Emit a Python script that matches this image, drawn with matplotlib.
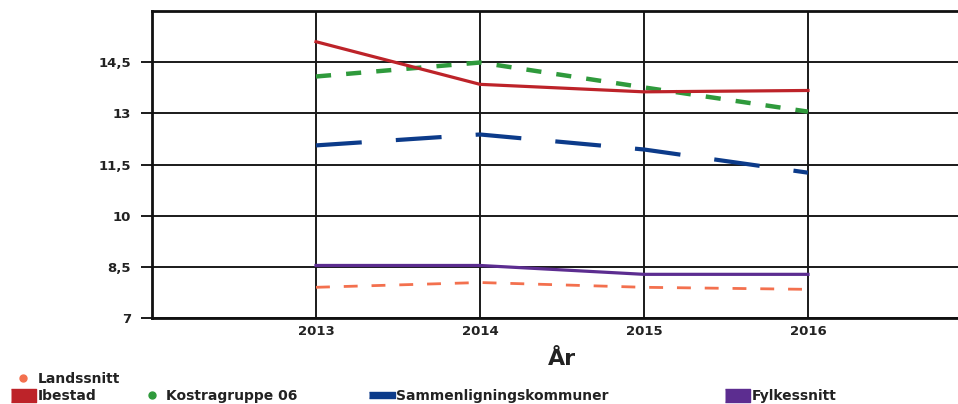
import matplotlib
matplotlib.use("Agg")
import matplotlib.pyplot as plt
from matplotlib.lines import Line2D
from matplotlib.ticker import FixedLocator, FuncFormatter

years = [2013, 2014, 2015, 2016]
ibestad = [15.10, 13.85, 13.63, 13.67]
kostragruppe = [14.08, 14.49, 13.76, 13.05]
sammenligning = [12.06, 12.38, 11.94, 11.26]
fylkessnitt = [8.54, 8.54, 8.28, 8.28]
landssnitt = [7.90, 8.04, 7.90, 7.84]
y_ticks = [7, 8.5, 10, 11.5, 13, 14.5]

RED = '#bd2329'
GREEN = '#2f9a3c'
BLUE = '#0c3b8a'
PURPLE = '#5c2d90'
ORANGE = '#f3704e'
TXT = '#222222'

plt.rcParams['font.family'] = ['DejaVu Sans']
plt.rcParams['font.weight'] = 'bold'

W, H = 958, 404
fig = plt.figure(figsize=(W / 100, H / 100), dpi=100)
ax = fig.add_axes([152 / W, 1 - 318 / H, 820 / W, 307 / H])

ax.set_xlim(2012, 2017)
ax.set_ylim(7, 16)

# grid
ax.xaxis.set_major_locator(FixedLocator(years))
ax.yaxis.set_major_locator(FixedLocator(y_ticks))
ax.grid(True, color='#1a1a1a', linewidth=1.4)
ax.set_axisbelow(True)
for s in ax.spines.values():
    s.set_linewidth(2.0)
    s.set_color('#111111')

ax.yaxis.set_major_formatter(FuncFormatter(lambda v, p: ('%g' % v).replace('.', ',')))
ax.tick_params(axis='y', length=8, width=1.4, color='#1a1a1a', pad=7,
               labelsize=9.5, labelcolor=TXT)
ax.tick_params(axis='x', length=0, pad=5, labelsize=9.5, labelcolor=TXT)

# series
ax.plot(years, landssnitt, color=ORANGE, lw=2.0, dashes=(5.0, 5.0), zorder=3)
ax.plot(years, fylkessnitt, color=PURPLE, lw=2.3, zorder=3)
ax.plot(years, sammenligning, color=BLUE, lw=3.0, dashes=(11.0, 8.2), zorder=3)
ax.plot(years, kostragruppe, color=GREEN, lw=3.2, dashes=(3.4, 3.4), zorder=3)
ax.plot(years, ibestad, color=RED, lw=2.3, zorder=4)

ax.set_xlabel('År', fontsize=16, fontweight='bold', color=TXT, labelpad=8)

# legend: one entry per legend so every item sits where it does in the original
sq = [(-1, -0.52), (1, -0.52), (1, 0.52), (-1, 0.52)]
bar = [(-1, -0.23), (1, -0.23), (1, 0.23), (-1, 0.23)]
entries = [
    ('Landssnitt', Line2D([], [], ls='none', marker='o', ms=5, color=ORANGE), 11, 379),
    ('Ibestad', Line2D([], [], ls='none', marker=sq, ms=18, color=RED), 11, 396),
    ('Kostragruppe 06', Line2D([], [], ls='none', marker='o', ms=5, color=GREEN), 140, 396),
    ('Sammenligningskommuner', Line2D([], [], ls='none', marker=bar, ms=19, color=BLUE), 370, 396),
    ('Fylkessnitt', Line2D([], [], ls='none', marker=sq, ms=18, color=PURPLE), 725, 396),
]
for label, handle, x0, yc in entries:
    lg = fig.legend([handle], [label], loc='center left',
                    bbox_to_anchor=(x0 / W, 1 - yc / H), frameon=False,
                    fontsize=10, handlelength=1.75, handletextpad=0.15,
                    borderpad=0, borderaxespad=0)
    for t in lg.get_texts():
        t.set_color(TXT)

fig.savefig('out.png', dpi=100)
